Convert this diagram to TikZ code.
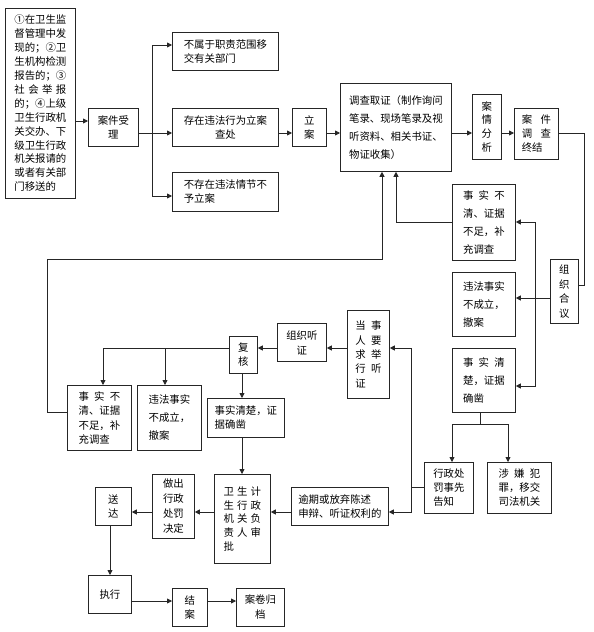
\documentclass[tikz,border=0pt]{standalone}
\usepackage{fontspec}
\setmainfont{Noto Sans CJK SC}
\usetikzlibrary{arrows.meta}
\newcommand\spread[2]{\makebox[#1][s]{#2}}
\newcommand\mkbox[7][]{\node[box,#1,anchor=north west,minimum width={(#5)-(#3)},minimum height={(#6)-(#4)}] (#2) at (#3,#4) {#7};}
\tikzset{
  box/.style={draw=black!85,line width=0.8pt,inner sep=0pt,align=center,
    font=\fontsize{10.4}{13.9}\selectfont},
  loose/.style={font=\fontsize{10.4}{18}\selectfont},
  line/.style={draw=black!85,line width=0.8pt},
  arr/.style={line,-{Triangle[length=5pt,width=5pt]}}
}
\begin{document}
\begin{tikzpicture}[x=1pt,y=-1pt]
\useasboundingbox[fill=white] (0,0) rectangle (594,632);
% nodes
\mkbox[align=left]{src}{5}{8}{75}{198}{①在卫生监\\督管理中发\\现的；②卫\\生机构检测\\报告的；③\\\spread{5em}{社\hfil 会\hfil 举\hfil 报}\\的；④上级\\卫生行政机\\关交办、下\\级卫生行政\\机关报请的\\或者有关部\\门移送的}
\mkbox{accept}{88}{108}{138}{146}{案件受\\理}
\mkbox[align=left]{notres}{172}{32}{278}{70}{不属于职责范围移\\交有关部门}
\mkbox{exist}{172}{108}{278}{146}{存在违法行为立案\\查处}
\mkbox[align=left]{noexist}{172}{172}{278}{211}{不存在违法情节不\\予立案}
\mkbox{lian}{292}{108}{326}{146}{立\\案}
\mkbox[align=left,loose]{invest}{340}{83}{451}{171}{调查取证（制作询问\\笔录、现场笔录及视\\听资料、相关书证、\\物证收集）}
\mkbox{analysis}{472}{94}{501}{159}{案\\情\\分\\析}
\mkbox[align=left]{endinv}{514}{108}{558}{159}{\spread{2.8em}{案\hfil 件}\\\spread{2.8em}{调\hfil 查}\\终结}
\mkbox[font=\fontsize{10.4}{14.5}\selectfont]{hehe}{550}{259}{578}{323}{组\\织\\合\\议}
\mkbox[align=left,loose]{rUnclear}{452}{184}{515}{260}{\spread{4em}{事\hfil 实\hfil 不}\\清、证据\\不足，补\\充调查}
\mkbox[align=left,loose]{rNot}{452}{272}{515}{336}{违法事实\\不成立，\\撤案}
\mkbox[align=left,loose]{rClear}{452}{348}{515}{412}{\spread{4em}{事\hfil 实\hfil 清}\\楚，证据\\确凿}
\mkbox[align=left]{notice}{424}{462}{473}{513}{行政处\\罚事先\\告知}
\mkbox[align=left]{crime}{487}{462}{551}{513}{\spread{4em}{涉\hfil 嫌\hfil 犯}\\罪，移交\\司法机关}
\mkbox[align=left,font=\fontsize{10.4}{14.3}\selectfont]{party}{347}{310}{389}{398}{\spread{2.5em}{当\hfil 事}\\\spread{2.5em}{人\hfil 要}\\\spread{2.5em}{求\hfil 举}\\\spread{2.5em}{行\hfil 听}\\证}
\mkbox[font=\fontsize{10.4}{15}\selectfont]{hearing}{277}{323}{326}{361}{组织听\\证}
\mkbox{review}{229}{336}{257}{373}{复\\核}
\mkbox[align=left,font=\fontsize{10.4}{14.3}\selectfont]{lUnclear}{67}{385}{131}{450}{\spread{4em}{事\hfil 实\hfil 不}\\清、证据\\不足，补\\充调查}
\mkbox[align=left,loose]{lNot}{137}{385}{201}{450}{违法事实\\不成立，\\撤案}
\mkbox[align=left]{mClear}{207}{398}{284}{437}{事实清楚，证\\据确凿}
\mkbox[align=left]{approve}{214}{474}{270}{563}{\spread{3.6em}{卫\hfil 生\hfil 计}\\\spread{3.6em}{生\hfil 行\hfil 政}\\\spread{3.6em}{机\hfil 关\hfil 负}\\\spread{3.6em}{责\hfil 人\hfil 审}\\批}
\mkbox[align=left]{overdue}{291}{487}{388}{525}{逾期或放弃陈述\\申辩、听证权利的}
\mkbox[font=\fontsize{10.4}{15}\selectfont]{decide}{152}{474}{194}{538}{做出\\行政\\处罚\\决定}
\mkbox{deliver}{95}{487}{131}{525}{送\\达}
\mkbox{exec}{88}{575}{131}{613}{执行}
\mkbox{close}{172}{588}{207}{626}{结\\案}
\mkbox[font=\fontsize{10.4}{15}\selectfont]{archive}{236}{588}{284}{626}{案卷归\\档}
% level coordinates
\foreach \v in {45,121,133,196,222,259,285,298,348,386,412,424,487,512,601}{\coordinate (y\v) at (0,\v);}
\foreach \v in {47,103,110,165,242,382,396,411,452,480,508,535,584}{\coordinate (x\v) at (\v,0);}
% connectors
\draw[arr] (src.east|-y121) -- (accept.west|-y121);
\coordinate (br) at (152,133);
\draw[line] (accept.east|-y133) -- (br);
\draw[arr] (br) -- (exist.west|-y133);
\draw[arr] (br) |- (notres.west|-y45);
\draw[arr] (br) |- (noexist.west|-y196);
\draw[arr] (exist.east|-y133) -- (lian.west|-y133);
\draw[arr] (lian.east|-y133) -- (invest.west|-y133);
\draw[arr] (invest.east|-y133) -- (analysis.west|-y133);
\draw[arr] (analysis.east|-y133) -- (endinv.west|-y133);
\draw[line] (endinv.east|-y133) -| (x584|-y285) -- (hehe.east|-y285);
\draw[arr] (hehe.west|-y298) -- (rNot.east|-y298);
\coordinate (j535) at (535,298);
\draw[arr] (j535) |- (rUnclear.east|-y222);
\draw[arr] (j535) |- (rClear.east|-y386);
\draw[arr] (rUnclear.west|-y222) -| (x396|-invest.south);
\draw[arr] (lUnclear.west|-y412) -| (x47|-y259) -| (x382|-invest.south);
\draw[line] (x480|-rClear.south) -- (x480|-y424);
\draw[arr] (x480|-y424) -| (x452|-notice.north);
\draw[arr] (x480|-y424) -| (x508|-crime.north);
\coordinate (j411) at (411,487);
\draw[line] (notice.west|-y487) -- (j411);
\draw[arr] (j411) |- (party.east|-y348);
\draw[arr] (j411) |- (overdue.east|-y512);
\draw[arr] (party.west|-y348) -- (hearing.east|-y348);
\draw[arr] (hearing.west|-y348) -- (review.east|-y348);
\draw[arr] (review.west|-y348) -| (x103|-lUnclear.north);
\draw[arr] (x165|-y348) -- (x165|-lNot.north);
\draw[arr] (x242|-review.south) -- (x242|-mClear.north);
\draw[arr] (x242|-mClear.south) -- (x242|-approve.north);
\draw[arr] (overdue.west|-y512) -- (approve.east|-y512);
\draw[arr] (approve.west|-y512) -- (decide.east|-y512);
\draw[arr] (decide.west|-y512) -- (deliver.east|-y512);
\draw[arr] (x110|-deliver.south) -- (x110|-exec.north);
\draw[arr] (exec.east|-y601) -- (close.west|-y601);
\draw[arr] (close.east|-y601) -- (archive.west|-y601);
\end{tikzpicture}
\end{document}
